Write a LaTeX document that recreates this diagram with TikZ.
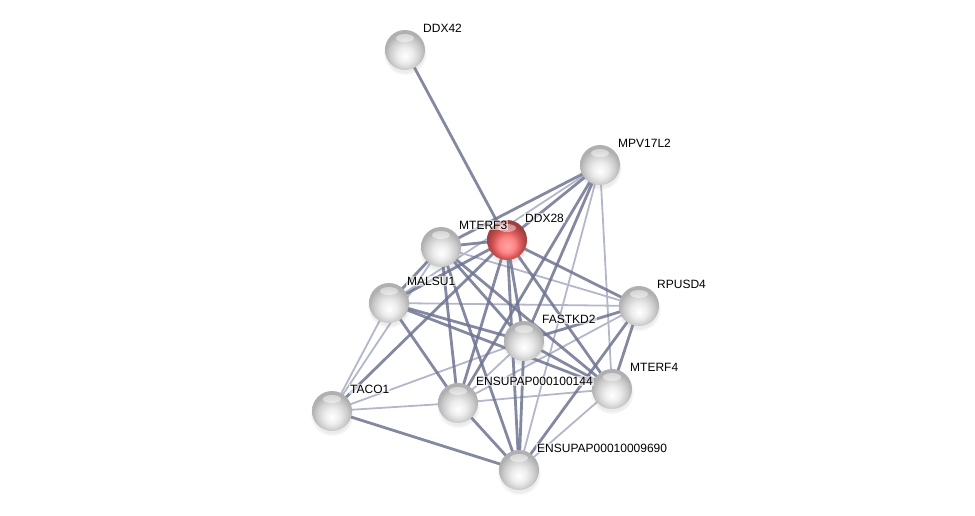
\documentclass[tikz,border=0pt]{standalone}
\usepackage{fontspec}
\setmainfont{Liberation Sans}
\usetikzlibrary{shadows}
\definecolor{edgedark}{HTML}{6E7491}
\definecolor{edgelight}{HTML}{B3B7C9}
\pgfdeclareradialshading{greysphere}{\pgfpoint{0bp}{-8bp}}{color(0bp)=(white);
  color(10bp)=(gray!15); color(19bp)=(gray!40); color(25bp)=(gray!62); color(50bp)=(gray!62)}
\pgfdeclareradialshading{redsphere}{\pgfpoint{0bp}{-8bp}}{color(0bp)=(red!35!white);
  color(10bp)=(red!48!white); color(19bp)=(red!55!gray!90); color(25bp)=(red!50!black!75); color(50bp)=(red!50!black!75)}

\begin{document}
\begin{tikzpicture}[x=1pt,y=-1pt,
    prot/.style={circle,minimum size=40pt,inner sep=0pt,shading=greysphere,
      circular drop shadow={shadow xshift=0pt,shadow yshift=-3pt,opacity=0.15},
      path picture={\fill[white,opacity=0.45] ([yshift=12pt]path picture bounding box.center)
        ellipse (9pt and 4pt);}},
    query/.style={prot,shading=redsphere},
    strong/.style={edgedark,line width=2.8pt,opacity=0.85},
    weak/.style={edgelight,line width=1.8pt},
    lbl/.style={font=\fontsize{12}{13}\selectfont,anchor=west,inner sep=1pt,
      fill=white,fill opacity=0.6,text opacity=1}]
  \useasboundingbox (0,0) rectangle (975,515);

  % protein positions
  \foreach \n/\x/\y in {A/405/50,M/600/165,D/507/240,T3/441/247,L/389/303,R/639/306,
      F/524/341,C/332/411,E1/458/403,T4/612/389,E2/519/470}
    \coordinate (\n) at (\x,\y);

  % edges
  \foreach \a/\b in {M/L,M/T4,M/E2,L/R,L/C,T3/R,T3/C,C/F,C/E1,E1/T4,T4/E2,F/E1,R/E1}
    \draw[weak] (\a) -- (\b);
  \foreach \a/\b in {A/D,M/D,M/T3,M/F,M/E1,D/T3,D/L,D/F,D/E1,D/E2,D/R,D/T4,D/C,
      T3/L,T3/F,T3/E1,T3/E2,T3/T4,L/F,L/T4,L/E1,F/R,F/T4,F/E2,R/T4,R/E2,C/E2,E1/E2}
    \draw[strong] (\a) -- (\b);

  % nodes
  \foreach \n/\x/\y in {A/405/50,M/600/165,T3/441/247,L/389/303,R/639/306,
      F/524/341,C/332/411,E1/458/403,T4/612/389,E2/519/470}
    \node[prot] (\n-n) at (\x,\y) {};
  \node[query] (D-n) at (507,240) {};

  % labels
  \foreach \n/\x/\y/\t in {A/405/50/DDX42,M/600/165/MPV17L2,D/507/240/DDX28,
      T3/441/247/MTERF3,L/389/303/MALSU1,R/639/306/RPUSD4,F/524/341/FASTKD2,
      C/332/411/TACO1,E1/458/403/ENSUPAP000100144,T4/612/389/MTERF4,
      E2/519/470/ENSUPAP00010009690}
    \node[lbl] (\n-l) at (\x+17,\y-22) {\t};
\end{tikzpicture}
\end{document}
